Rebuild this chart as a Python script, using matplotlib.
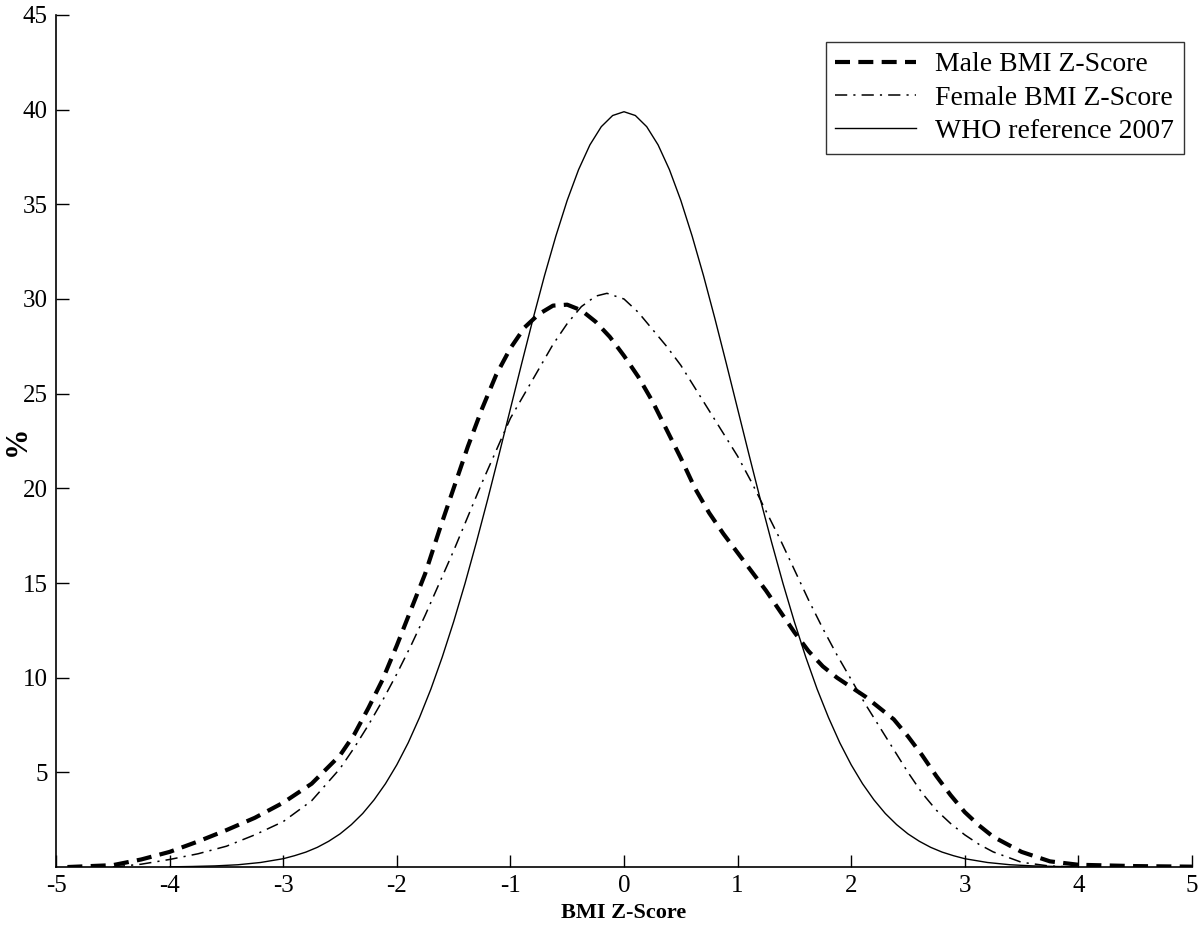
import matplotlib
matplotlib.use("Agg")
import matplotlib.pyplot as plt

plt.rcParams['font.family'] = ['Liberation Serif', 'DejaVu Serif']

# values (x = BMI z-score, y = %)
male_x = [-4.9, -4.5, -4.25, -4.0, -3.75, -3.5, -3.25, -3.0, -2.75, -2.5,
          -2.375, -2.25, -2.125, -2.0, -1.875, -1.75, -1.625, -1.5, -1.375,
          -1.25, -1.125, -1.0, -0.875, -0.75, -0.625, -0.5, -0.375, -0.25,
          -0.125, 0.0, 0.125, 0.25, 0.375, 0.5, 0.625, 0.75, 0.875, 1.0,
          1.125, 1.25, 1.375, 1.5, 1.625, 1.75, 1.875, 2.0, 2.125, 2.25,
          2.375, 2.5, 2.625, 2.75, 2.875, 3.0, 3.125, 3.25, 3.5, 3.75, 4.0,
          4.5, 5.0]
male_y = [0.0, 0.1, 0.4, 0.8, 1.35, 1.95, 2.6, 3.4, 4.4, 5.9,
          7.0, 8.4, 9.9, 11.7, 13.6, 15.5, 17.8, 20.0, 22.2,
          24.2, 26.0, 27.4, 28.5, 29.2, 29.65, 29.7, 29.4, 28.8,
          28.0, 27.0, 25.9, 24.6, 23.1, 21.6, 20.0, 18.7, 17.6, 16.6,
          15.6, 14.6, 13.5, 12.4, 11.4, 10.6, 10.0, 9.5, 9.0, 8.4,
          7.8, 6.9, 5.9, 4.8, 3.8, 2.9, 2.2, 1.6, 0.8, 0.3, 0.12,
          0.05, 0.02]

female_x = [-4.5, -4.25, -4.0, -3.75, -3.5, -3.25, -3.0, -2.75, -2.5, -2.375,
            -2.25, -2.125, -2.0, -1.875, -1.75, -1.625, -1.5, -1.375, -1.25,
            -1.125, -1.0, -0.875, -0.75, -0.625, -0.5, -0.375, -0.25, -0.15,
            0.0, 0.125, 0.25, 0.375, 0.5, 0.625, 0.75, 0.875, 1.0, 1.125,
            1.25, 1.375, 1.5, 1.625, 1.75, 1.875, 2.0, 2.125, 2.25, 2.375,
            2.5, 2.625, 2.75, 2.875, 3.0, 3.125, 3.25, 3.5, 3.75, 4.0]
female_y = [0.0, 0.15, 0.4, 0.7, 1.1, 1.7, 2.4, 3.5, 5.2, 6.3,
            7.5, 8.8, 10.2, 11.7, 13.3, 15.0, 16.7, 18.5, 20.3,
            22.0, 23.7, 25.0, 26.3, 27.6, 28.7, 29.6, 30.15, 30.3,
            30.0, 29.3, 28.4, 27.5, 26.5, 25.3, 24.1, 22.9, 21.7, 20.3,
            18.8, 17.3, 15.7, 14.1, 12.6, 11.2, 9.9, 8.6, 7.4, 6.2,
            5.0, 3.9, 3.0, 2.3, 1.7, 1.2, 0.8, 0.25, 0.05, 0.0]

who_x = [-4.0, -3.8, -3.6, -3.4, -3.2, -3.0, -2.9, -2.8, -2.7, -2.6, -2.5,
         -2.4, -2.3, -2.2, -2.1, -2.0, -1.9, -1.8, -1.7, -1.6, -1.5, -1.4,
         -1.3, -1.2, -1.1, -1.0, -0.9, -0.8, -0.7, -0.6, -0.5, -0.4, -0.3,
         -0.2, -0.1, 0.0, 0.1, 0.2, 0.3, 0.4, 0.5, 0.6, 0.7, 0.8, 0.9, 1.0,
         1.1, 1.2, 1.3, 1.4, 1.5, 1.6, 1.7, 1.8, 1.9, 2.0, 2.1, 2.2, 2.3,
         2.4, 2.5, 2.6, 2.7, 2.8, 2.9, 3.0, 3.2, 3.4, 3.6, 3.8, 4.0]
who_y = [0.01, 0.03, 0.06, 0.12, 0.24, 0.44, 0.60, 0.79, 1.04, 1.36, 1.75,
         2.24, 2.83, 3.55, 4.40, 5.40, 6.56, 7.90, 9.40, 11.09, 12.95, 14.97,
         17.14, 19.42, 21.79, 24.20, 26.61, 28.97, 31.23, 33.32, 35.21, 36.83,
         38.14, 39.10, 39.69, 39.89, 39.69, 39.10, 38.14, 36.83, 35.21, 33.32,
         31.23, 28.97, 26.61, 24.20, 21.79, 19.42, 17.14, 14.97, 12.95, 11.09,
         9.40, 7.90, 6.56, 5.40, 4.40, 3.55, 2.83, 2.24, 1.75, 1.36, 1.04,
         0.79, 0.60, 0.44, 0.24, 0.12, 0.06, 0.03, 0.01]

x_ticks = [-5, -4, -3, -2, -1, 0, 1, 2, 3, 4, 5]
y_ticks = [5, 10, 15, 20, 25, 30, 35, 40, 45]

fig = plt.figure(figsize=(12, 9.3), dpi=100)
ax = fig.add_axes([0.0467, 0.0677, 0.9466, 0.9162])

ax.plot(male_x, male_y, color='black', lw=3.0, dashes=(3.6, 2.0),
        label='Male BMI Z-Score')
ax.plot(female_x, female_y, color='black', lw=1.1, dashes=(8, 4, 1.4, 4),
        label='Female BMI Z-Score')
ax.plot(who_x, who_y, color='black', lw=1.0, label='WHO reference 2007')

ax.set_xlim(-5, 5)
ax.set_ylim(0, 45)
ax.set_xticks(x_ticks)
ax.set_xticklabels([str(v) for v in x_ticks])
ax.set_yticks(y_ticks)
ax.set_yticklabels([str(v) for v in y_ticks])

for s in ['top', 'right']:
    ax.spines[s].set_visible(False)
for s in ['left', 'bottom']:
    ax.spines[s].set_linewidth(1.2)

ax.tick_params(direction='in', length=9, width=1.0, labelsize=18, pad=6)

ax.set_xlabel('BMI Z-Score', fontsize=16, fontweight='bold', labelpad=4)
ax.set_ylabel('%', fontsize=22, fontweight='bold')
ax.yaxis.set_label_coords(-0.021, 0.5)

leg = ax.legend(loc='upper right', bbox_to_anchor=(0.993, 0.968), fontsize=20,
                handlelength=2.9, frameon=True, fancybox=False, borderpad=0.35,
                labelspacing=0.28, handletextpad=0.7, borderaxespad=0)
leg.get_frame().set_edgecolor('black')
leg.get_frame().set_linewidth(1.0)

fig.savefig('out.png', dpi=100)
